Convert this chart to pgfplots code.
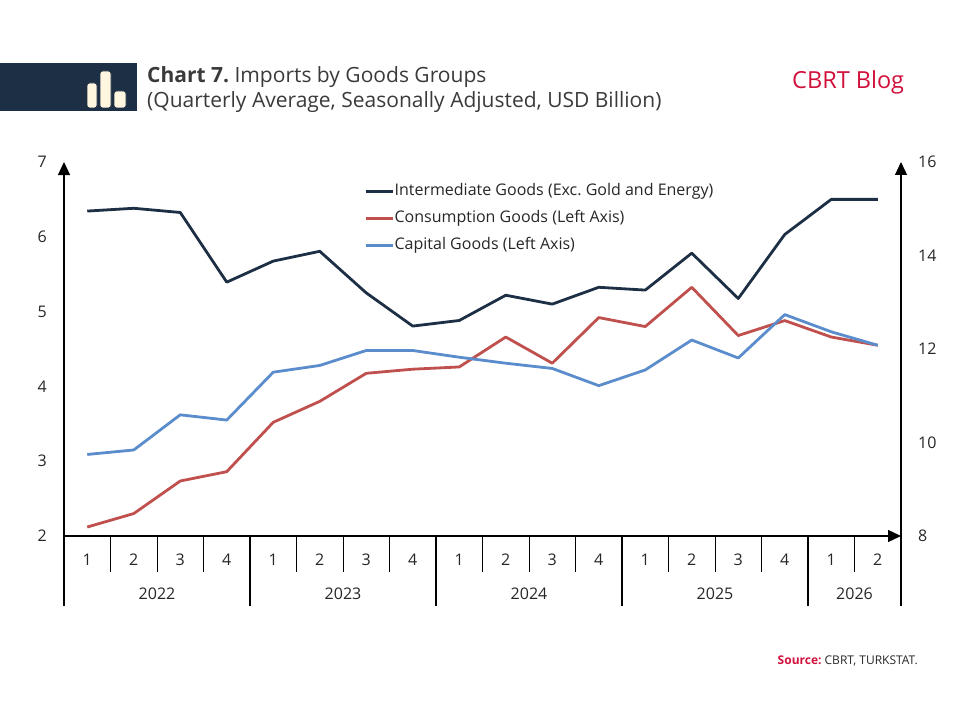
\documentclass[border=0pt]{standalone}
\usepackage{fontspec}
\setmainfont{Open Sans}
\usepackage{pgfplots}
\pgfplotsset{compat=1.18}
\usetikzlibrary{arrows.meta}
\definecolor{navy}{HTML}{1D2F44}
\definecolor{cred}{HTML}{C0504D}
\definecolor{cblue}{HTML}{5B8CCB}
\definecolor{cream}{HTML}{FFF6E0}
\definecolor{txt}{HTML}{262626}
\definecolor{ttl}{HTML}{3A3A3A}
\definecolor{brand}{HTML}{D1103C}
\frenchspacing
\begin{document}
\begin{tikzpicture}[x=1pt,y=1pt]
\path[use as bounding box] (0,0) rectangle (960,720);
% header
\fill[navy] (0,609) rectangle (137,657);
\draw[navy, fill=cream, rounded corners=2.5pt, line width=0.8pt] (87,612) rectangle (97,637);
\draw[navy, fill=cream, rounded corners=2.5pt, line width=0.8pt] (100,612) rectangle (111,649);
\draw[navy, fill=cream, rounded corners=2.5pt, line width=0.8pt] (114,612) rectangle (126,629);
\node[anchor=base west, inner sep=0pt, text=ttl, font=\fontsize{21}{24}\selectfont] at (147,637) {\textbf{Chart 7.} Imports by Goods Groups};
\node[anchor=base west, inner sep=0pt, text=ttl, font=\fontsize{21}{24}\selectfont] at (147,612) {(Quarterly Average, Seasonally Adjusted, USD Billion)};
\node[anchor=base west, inner sep=0pt, text=brand, font=\fontsize{23.5}{27}\selectfont] at (792,631) {CBRT Blog};

\pgfplotsset{
  base/.style={
    at={(64pt,184pt)}, anchor=south west, scale only axis,
    width=837pt, height=374pt,
    xmin=-0.5, xmax=17.5,
    major tick length=0pt,
    /pgf/number format/assume math mode=true,
    tick label style={font=\fontsize{16}{19}\selectfont, text=txt},
    axis line style={line width=1.2pt, black},
    clip=false,
  },
  dl/.style={line width=2.8pt, line join=round},
}
\begin{axis}[base,
  ymin=2, ymax=7, ytick={2,3,4,5,6,7},
  axis x line=bottom, axis y line=left,
  x axis line style={-{Triangle[width=12pt,length=13pt]}},
  y axis line style={-{Triangle[width=12pt,length=13pt]}},
  xtick={0,...,17},
  xticklabels={1,2,3,4,1,2,3,4,1,2,3,4,1,2,3,4,1,2},
  xticklabel style={anchor=center, inner sep=0pt, yshift=-24pt},
  yticklabel style={inner sep=0pt, xshift=-17pt},
  legend style={at={(0.355,0.947)}, anchor=north west, draw=none, fill=none,
    font=\fontsize{16}{19}\selectfont, text=txt, row sep=12pt,
    nodes={inner xsep=0.5pt, inner ysep=0pt, text height=11pt, text depth=4pt},
    cells={anchor=west}},
  legend image code/.code={\draw[#1] (0pt,0pt) -- (27pt,0pt);},
]
\addlegendimage{navy, line width=2.8pt}
\addlegendentry{Intermediate Goods (Exc. Gold and Energy)}
\addplot[cred, dl] coordinates {
(0,2.12) (1,2.30) (2,2.735) (3,2.86)
(4,3.52) (5,3.80) (6,4.175) (7,4.23)
(8,4.26) (9,4.66) (10,4.31) (11,4.92)
(12,4.80) (13,5.325) (14,4.68) (15,4.88)
(16,4.66) (17,4.55)};
\addlegendentry{Consumption Goods (Left Axis)}
\addplot[cblue, dl] coordinates {
(0,3.09) (1,3.15) (2,3.62) (3,3.55)
(4,4.19) (5,4.28) (6,4.48) (7,4.48)
(8,4.39) (9,4.31) (10,4.24) (11,4.01)
(12,4.22) (13,4.62) (14,4.38) (15,4.96)
(16,4.73) (17,4.55)};
\addlegendentry{Capital Goods (Left Axis)}
\end{axis}
\begin{axis}[base,
  ymin=8, ymax=16, ytick={8,10,12,14,16},
  axis x line=none, axis y line=right,
  y axis line style={-{Triangle[width=12pt,length=13pt]}},
  yticklabel style={inner sep=0pt, xshift=17pt},
]
\addplot[navy, dl] coordinates {
(0,14.95) (1,15.01) (2,14.92) (3,13.43)
(4,13.88) (5,14.09) (6,13.20) (7,12.49)
(8,12.61) (9,13.15) (10,12.96) (11,13.32)
(12,13.26) (13,14.05) (14,13.08) (15,14.45)
(16,15.20) (17,15.20)};
\end{axis}
% category separators
\foreach \i in {1,2,3,5,6,7,9,10,11,13,14,15,17}
  \draw[line width=1pt] ({64+46.5*\i},184) -- ++(0,-36);
\foreach \i in {0,4,8,12,16,18}
  \draw[line width=1.2pt] ({64+46.5*\i},184) -- ++(0,-70);
\begin{scope}[every node/.style={font=\fontsize{16}{19}\selectfont, text=txt, inner sep=0pt}]
\node at (157,126) {2022};
\node at (343,126) {2023};
\node at (529,126) {2024};
\node at (715,126) {2025};
\node at (854.5,126) {2026};
\end{scope}
\node[anchor=base east, inner sep=0pt, font=\fontsize{12}{14}\selectfont, text=txt] at (918,56) {\textcolor{brand}{\textbf{Source:}} CBRT, TURKSTAT.};
\end{tikzpicture}
\end{document}
